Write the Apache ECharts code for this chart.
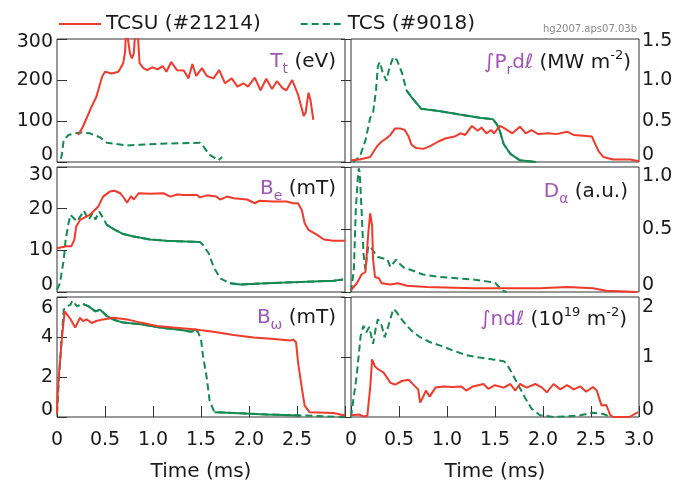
<!DOCTYPE html>
<html><head><meta charset="utf-8">
<script src="https://cdn.jsdelivr.net/npm/echarts@6/dist/echarts.min.js"></script>
<style>html,body{margin:0;padding:0;background:#fff}#c{width:687px;height:483px}</style>
</head><body><div id="c"></div><script>
const RED = '#f03a2b', GREEN = '#148a52', PURPLE = '#a056b6', INK = '#1a1a1a';
const FONT = 'DejaVu Sans';
const seriesNames = ['TCSU (#21214)', 'TCS (#9018)'];
const timeTicks = [0, 0.5, 1, 1.5, 2, 2.5, 3];

// --- Tt (eV)
const tcsuTt = [[0.22,66],[0.27,86],[0.36,135],[0.41,159],[0.47,208],[0.5,220],[0.57,216],[0.64,220],[0.69,241],[0.71,270],[0.72,330],[0.74,330],[0.76,265],[0.78,253],[0.8,265],[0.82,335],[0.84,320],[0.86,241],[0.9,229],[0.94,224],[0.99,231],[1.05,226],[1.1,234],[1.14,220],[1.19,244],[1.25,224],[1.32,223],[1.37,204],[1.41,239],[1.45,210],[1.51,229],[1.56,210],[1.63,204],[1.69,224],[1.75,192],[1.82,204],[1.88,184],[1.94,192],[1.99,184],[2.06,206],[2.12,175],[2.18,203],[2.24,178],[2.29,197],[2.35,180],[2.39,175],[2.45,200],[2.51,165],[2.57,112],[2.59,120],[2.62,169],[2.64,152],[2.67,103]];
const tcsTt = [[0.04,8],[0.05,17],[0.07,54],[0.12,66],[0.19,70],[0.26,72],[0.34,70],[0.45,60],[0.52,47],[0.62,44],[0.73,40],[0.86,42],[1.14,45],[1.49,47],[1.53,37],[1.58,19],[1.63,12],[1.68,4],[1.72,12]];

// --- ∫Pr dl (MW m-2)
const tcsuPr = [[0,0.02],[0.09,0.03],[0.2,0.06],[0.27,0.19],[0.32,0.25],[0.37,0.29],[0.41,0.33],[0.46,0.41],[0.51,0.41],[0.56,0.39],[0.6,0.31],[0.63,0.21],[0.68,0.17],[0.75,0.16],[0.82,0.19],[0.91,0.25],[0.99,0.29],[1.08,0.31],[1.14,0.35],[1.19,0.33],[1.26,0.44],[1.32,0.38],[1.36,0.42],[1.41,0.35],[1.46,0.39],[1.49,0.35],[1.55,0.44],[1.6,0.41],[1.68,0.35],[1.76,0.43],[1.82,0.35],[1.88,0.39],[1.95,0.34],[2.06,0.35],[2.14,0.34],[2.25,0.37],[2.32,0.33],[2.42,0.32],[2.51,0.31],[2.54,0.23],[2.58,0.13],[2.63,0.06],[2.73,0.03],[2.91,0.03],[3.0,0.01]];
const tcsPr = [[0.02,0],[0.09,0.06],[0.15,0.26],[0.2,0.54],[0.23,0.6],[0.26,0.87],[0.28,1.17],[0.3,1.22],[0.33,1.09],[0.37,0.99],[0.4,1.15],[0.44,1.28],[0.48,1.24],[0.53,1.09],[0.58,0.87],[0.63,0.79],[0.73,0.65],[0.93,0.62],[1.13,0.58],[1.34,0.54],[1.48,0.52],[1.52,0.46],[1.55,0.38],[1.59,0.22],[1.66,0.1],[1.76,0.02],[1.93,0]];

// --- Be (mT)
const tcsuBe = [[0,10.5],[0.1,11.0],[0.15,11.0],[0.18,12.5],[0.2,15.7],[0.24,17.3],[0.34,18.5],[0.43,20.5],[0.48,22.9],[0.55,24.1],[0.6,24.3],[0.66,23.7],[0.7,22.5],[0.73,21.4],[0.77,23.0],[0.8,22.2],[0.85,23.7],[0.97,23.6],[1.11,23.7],[1.18,22.9],[1.25,23.4],[1.32,23.3],[1.46,23.3],[1.49,22.7],[1.56,23.2],[1.66,22.9],[1.7,22.2],[1.77,22.9],[1.84,22.5],[1.98,22.2],[2.06,21.3],[2.11,21.9],[2.25,21.7],[2.39,21.7],[2.46,21.3],[2.51,21.3],[2.55,19.7],[2.58,16.5],[2.62,14.9],[2.71,13.7],[2.78,12.6],[2.88,12.3],[3.0,12.3]];
const tcsBe = [[0,0.5],[0.03,2.1],[0.07,7.7],[0.09,12.5],[0.12,16.5],[0.14,18.5],[0.21,16.9],[0.28,19.5],[0.33,17.3],[0.37,18.9],[0.4,17.4],[0.44,19.3],[0.48,17.7],[0.52,16.1],[0.59,15.1],[0.69,13.9],[0.8,13.3],[0.97,12.6],[1.14,12.3],[1.35,12.1],[1.49,12.0],[1.52,11.3],[1.58,9.3],[1.63,6.1],[1.7,3.3],[1.8,2.1],[1.91,1.8],[2.18,2.1],[2.53,2.4],[2.88,2.7],[2.98,3.0]];

// --- Dα (a.u.)
const tcsuDa = [[0,0.016],[0.06,0.07],[0.11,0.14],[0.15,0.16],[0.16,0.26],[0.18,0.47],[0.2,0.63],[0.21,0.64],[0.22,0.53],[0.23,0.26],[0.25,0.12],[0.29,0.11],[0.32,0.07],[0.41,0.06],[0.49,0.07],[0.58,0.05],[0.79,0.04],[1.27,0.03],[1.97,0.03],[2.25,0.04],[2.52,0.03],[2.66,0.01],[2.98,0]];
const tcsDa = [[0,0],[0.03,0.18],[0.05,0.66],[0.07,0.9],[0.08,0.99],[0.09,0.96],[0.11,0.66],[0.13,0.31],[0.15,0.18],[0.18,0.37],[0.21,0.35],[0.25,0.31],[0.28,0.28],[0.33,0.27],[0.38,0.26],[0.41,0.2],[0.43,0.2],[0.47,0.26],[0.5,0.23],[0.56,0.19],[0.61,0.18],[0.75,0.14],[0.92,0.12],[1.1,0.11],[1.27,0.1],[1.41,0.085],[1.5,0.075],[1.53,0.05],[1.58,0.01],[1.62,0]];

// --- Bω (mT)
const tcsuBw = [[0,0.16],[0.01,1.46],[0.05,3.9],[0.08,5.28],[0.1,5.2],[0.14,4.9],[0.19,4.47],[0.24,4.96],[0.27,4.8],[0.31,4.88],[0.36,4.7],[0.41,4.8],[0.48,4.88],[0.59,4.96],[0.73,4.88],[0.87,4.72],[1.04,4.55],[1.21,4.47],[1.42,4.39],[1.63,4.26],[1.84,4.1],[2.05,3.98],[2.26,3.9],[2.43,3.82],[2.46,3.87],[2.49,3.74],[2.51,2.77],[2.55,1.46],[2.58,0.57],[2.63,0.24],[2.88,0.2],[3.0,0.08]];
const tcsBw = [[0,0.16],[0.02,1.95],[0.07,5.37],[0.1,5.53],[0.14,5.61],[0.16,5.82],[0.21,5.53],[0.27,5.66],[0.33,5.53],[0.4,5.28],[0.45,5.37],[0.52,5.04],[0.6,4.85],[0.69,4.72],[0.87,4.64],[1.07,4.47],[1.28,4.36],[1.4,4.26],[1.44,4.39],[1.47,4.23],[1.5,3.9],[1.52,3.09],[1.56,1.95],[1.59,0.81],[1.64,0.24],[1.84,0.2],[2.18,0.13],[2.53,0.08],[3.0,0]];

// --- ∫n dl (10^19 m-2)
const tcsuNl = [[0,0.03],[0.09,0.04],[0.13,0.01],[0.17,0.02],[0.2,0.49],[0.22,0.96],[0.25,0.84],[0.28,0.8],[0.34,0.74],[0.41,0.57],[0.46,0.54],[0.53,0.6],[0.6,0.62],[0.65,0.54],[0.7,0.46],[0.72,0.24],[0.75,0.33],[0.78,0.44],[0.82,0.34],[0.88,0.49],[0.96,0.51],[1.06,0.5],[1.15,0.51],[1.2,0.44],[1.27,0.51],[1.38,0.55],[1.43,0.47],[1.5,0.53],[1.59,0.49],[1.66,0.55],[1.71,0.44],[1.76,0.55],[1.83,0.49],[1.92,0.55],[1.99,0.49],[2.04,0.41],[2.11,0.55],[2.18,0.46],[2.25,0.53],[2.32,0.46],[2.39,0.51],[2.45,0.42],[2.52,0.5],[2.56,0.44],[2.61,0.19],[2.66,0.2],[2.7,0.03],[2.73,0],[2.9,0],[2.99,0.08]];
const tcsNl = [[0,0],[0.06,0.7],[0.1,1.35],[0.13,1.52],[0.16,1.41],[0.19,1.5],[0.23,1.22],[0.26,1.5],[0.28,1.63],[0.32,1.52],[0.35,1.33],[0.39,1.52],[0.44,1.8],[0.47,1.76],[0.54,1.6],[0.63,1.44],[0.72,1.33],[0.82,1.25],[0.93,1.19],[1.06,1.11],[1.2,1.03],[1.34,0.99],[1.48,0.96],[1.59,0.93],[1.62,0.89],[1.67,0.75],[1.74,0.54],[1.81,0.33],[1.88,0.14],[1.97,0.03],[2.11,0],[2.25,0.01],[2.39,0.03],[2.52,0.07],[2.63,0.05],[2.7,0]];

// time ranges where the TCS trace appears solid in the reference (style only)
const tcsSolidPr = [[0.55, 2.0]];
const tcsSolidBe = [[0.5, 1.49], [1.75, 3.0]];
const tcsSolidBw = [[0.27, 1.47], [1.64, 2.55]];

const panels = [
  { red: tcsuTt, green: tcsTt, solid: [], min: 0, max: 300, interval: 100, dec: 0, side: 'left',
    grid: { left: 57, top: 39, width: 288, height: 123 }, hiPad: 6, bottom: false, leftCol: true },
  { red: tcsuPr, green: tcsPr, solid: tcsSolidPr, min: 0, max: 1.5, interval: 0.5, dec: 1, side: 'right',
    grid: { left: 351, top: 39, width: 288, height: 123 }, hiPad: 4, bottom: false, leftCol: false },
  { red: tcsuBe, green: tcsBe, solid: tcsSolidBe, min: 0, max: 30, interval: 10, dec: 0, side: 'left',
    grid: { left: 57, top: 167, width: 288, height: 125 }, hiPad: 16, bottom: false, leftCol: true },
  { red: tcsuDa, green: tcsDa, solid: [], min: 0, max: 1.0, interval: 0.5, dec: 1, side: 'right',
    grid: { left: 351, top: 167, width: 288, height: 125 }, hiPad: 18, bottom: false, leftCol: false },
  { red: tcsuBw, green: tcsBw, solid: tcsSolidBw, min: 0, max: 6, interval: 2, dec: 0, side: 'left',
    grid: { left: 57, top: 297, width: 288, height: 123 }, hiPad: 22, bottom: true, leftCol: true },
  { red: tcsuNl, green: tcsNl, solid: [], min: 0, max: 2, interval: 1, dec: 0, side: 'right',
    grid: { left: 351, top: 297, width: 288, height: 123 }, hiPad: 20, bottom: true, leftCol: false }
];

function fmtNum(v, dec) { return v === 0 ? '0' : v.toFixed(dec); }
function solidPart(data, ranges) {
  return data.map(p => ranges.some(r => p[0] >= r[0] && p[0] <= r[1]) ? p : [p[0], '-']);
}
const labStyle = { fontSize: 19, fontFamily: FONT, color: INK };

const grids = [], xAxes = [], yAxes = [], series = [];
panels.forEach((p, i) => {
  grids.push(Object.assign({ show: true, borderColor: '#333', borderWidth: 1, backgroundColor: '#fff' }, p.grid));
  xAxes.push({
    type: 'value', gridIndex: i, min: 0, max: 3, interval: 0.5,
    axisLine: { show: false }, splitLine: { show: false },
    axisTick: { show: p.bottom, inside: true, length: 11, lineStyle: { color: '#333' } },
    axisLabel: { show: p.bottom, margin: 14, fontSize: 19, fontFamily: FONT, color: INK,
      formatter: v => (p.leftCol && v === 3) ? '' : fmtNum(v, 1) },
    name: p.bottom ? 'Time (ms)' : '', nameLocation: 'middle', nameGap: 45,
    nameTextStyle: { fontSize: 20, fontFamily: FONT, color: INK }
  });
  yAxes.push({
    type: 'value', gridIndex: i, min: p.min, max: p.max, interval: p.interval, position: p.side,
    axisLine: { show: false }, splitLine: { show: false },
    axisTick: { show: true, inside: true, length: 10, lineStyle: { color: '#333' } },
    axisLabel: {
      margin: p.side === 'left' ? 4 : 3, fontSize: 19, fontFamily: FONT, color: INK,
      formatter: v => {
        const s = fmtNum(v, p.dec);
        if (v === p.min) return '{lo|' + s + '}';
        if (Math.abs(v - p.max) < 1e-9) return '{hi|' + s + '}';
        return s;
      },
      rich: {
        lo: Object.assign({ padding: [0, 0, 14, 0] }, labStyle),
        hi: Object.assign({ padding: [p.hiPad, 0, 0, 0] }, labStyle)
      }
    }
  });
});

panels.forEach((p, i) => {
  series.push({ type: 'line', name: seriesNames[0], xAxisIndex: i, yAxisIndex: i, data: p.red,
    showSymbol: false, symbol: 'none', smooth: false, z: 3,
    lineStyle: { color: RED, width: 2 }, itemStyle: { color: RED } });
});
panels.forEach((p, i) => {
  series.push({ type: 'line', name: seriesNames[1], xAxisIndex: i, yAxisIndex: i, data: p.green,
    showSymbol: false, symbol: 'none', z: 2,
    lineStyle: { color: GREEN, width: 2, type: [7, 4] }, itemStyle: { color: GREEN } });
  if (p.solid.length) {
    series.push({ type: 'line', name: 'tcs-solid-' + i, xAxisIndex: i, yAxisIndex: i,
      data: solidPart(p.green, p.solid), showSymbol: false, symbol: 'none', z: 2,
      lineStyle: { color: GREEN, width: 2 }, itemStyle: { color: GREEN } });
  }
});

const rich = {
  p: { fill: PURPLE, fontFamily: FONT, fontSize: 20, lineHeight: 28, verticalAlign: 'middle' },
  ps: { fill: PURPLE, fontFamily: FONT, fontSize: 14, lineHeight: 14, verticalAlign: 'bottom' },
  k: { fill: INK, fontFamily: FONT, fontSize: 20, lineHeight: 28, verticalAlign: 'middle' },
  sup: { fill: INK, fontFamily: FONT, fontSize: 13, lineHeight: 13, verticalAlign: 'top' }
};
function panelLabel(text, x, y) {
  return { type: 'text', z: 50, style: { text: text, rich: rich, x: x, y: y, align: 'right', verticalAlign: 'middle' } };
}

const option = {
  animation: false,
  backgroundColor: '#fff',
  legend: {
    data: seriesNames, left: 58, top: 14, padding: 0, itemWidth: 42, itemHeight: 14, itemGap: 39,
    selectedMode: false, itemStyle: { opacity: 0 },
    textStyle: { fontSize: 20, fontFamily: FONT, color: INK }
  },
  grid: grids, xAxis: xAxes, yAxis: yAxes, series: series,
  graphic: [
    { type: 'text', style: { text: 'hg2007.aps07.03b', x: 637, y: 29, align: 'right', verticalAlign: 'middle',
      fontSize: 10, fontFamily: FONT, fill: '#8a8a8a' } },
    panelLabel('{p|T}{ps|t}{k| (eV)}', 336, 62),
    panelLabel('{p|∫P}{ps|r}{p|dℓ}{k| (MW m}{sup|-2}{k|)}', 631, 63),
    panelLabel('{p|B}{ps|e}{k| (mT)}', 336, 189),
    panelLabel('{p|D}{ps|α}{k| (a.u.)}', 628, 192),
    panelLabel('{p|B}{ps|ω}{k| (mT)}', 336, 318),
    panelLabel('{p|∫ndℓ}{k| (10}{sup|19}{k| m}{sup|-2}{k|)}', 627, 320)
  ]
};
const chart = echarts.init(document.getElementById('c'), null, { renderer: 'canvas' });
chart.setOption(option);
</script></body></html>
